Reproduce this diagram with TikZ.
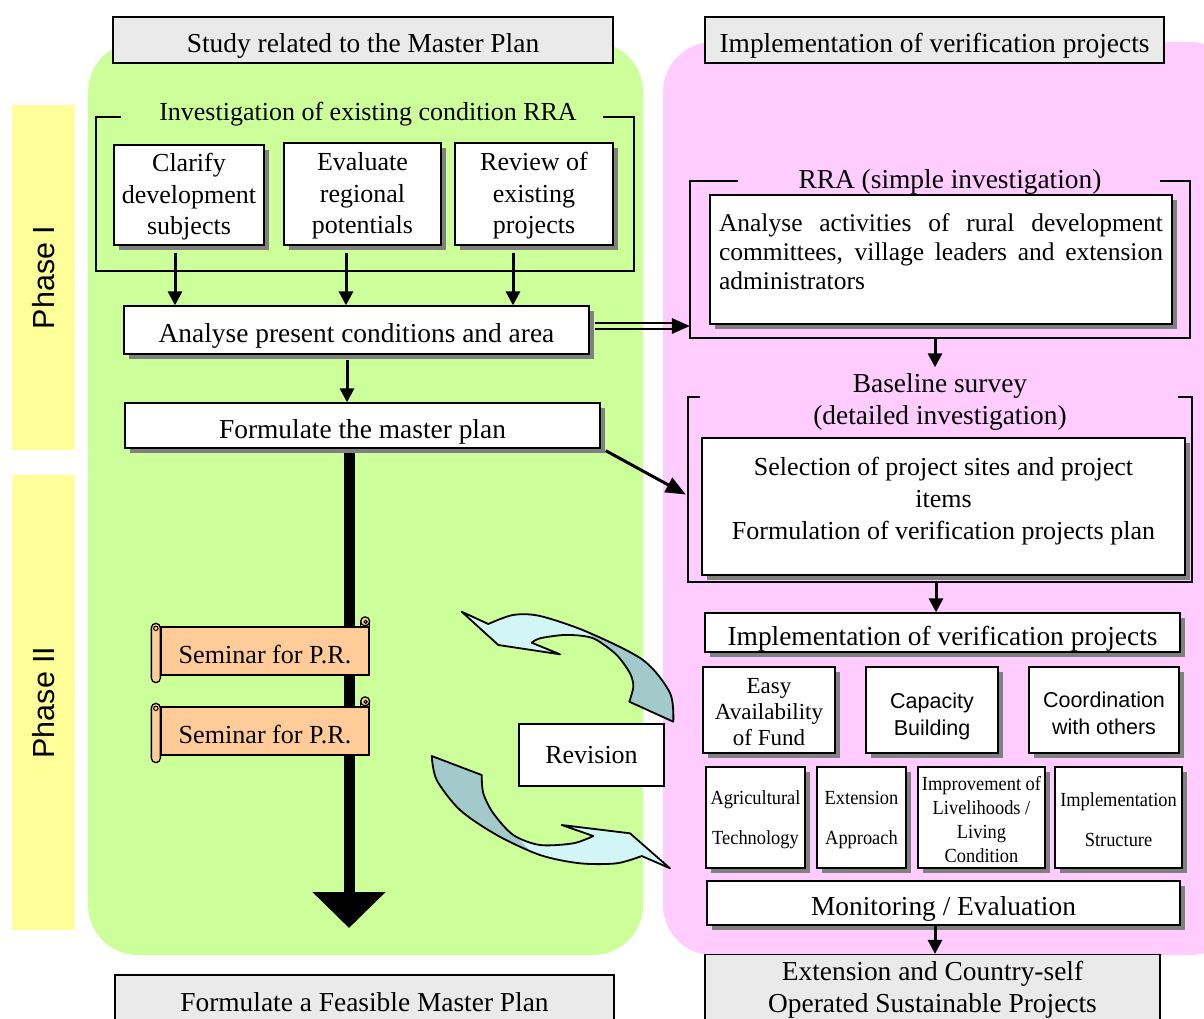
\documentclass[tikz,border=0pt]{standalone}
\usepackage{fontspec}
\setmainfont{Liberation Serif}
\newfontfamily\sansfam{Liberation Sans}
\newfontfamily\narrowfam[FakeStretch=0.92]{Liberation Serif}
\usetikzlibrary{arrows.meta,shadows,calc}

\newcommand\fsz[2]{\fontsize{#1}{#2}\selectfont}

\definecolor{phaseyellow}{HTML}{FFFF99}
\definecolor{mpgreen}{HTML}{CCFF99}
\definecolor{vppink}{HTML}{FFCCFF}
\definecolor{headgray}{HTML}{EAEAEA}
\definecolor{scrollpeach}{HTML}{FFCC99}
\definecolor{arrowlight}{HTML}{D2F6F6}
\definecolor{arrowdark}{HTML}{A2CACA}
\definecolor{shadowgray}{HTML}{808080}

\tikzset{
  phasebar/.style={fill=phaseyellow, inner sep=0pt, font=\sansfam\fsz{30.5}{36}},
  header/.style={draw, line width=1.2pt, fill=headgray, inner sep=0pt, align=center, font=\fsz{27.4}{32}},
  box/.style={draw, line width=1.3pt, fill=white, inner sep=0pt, align=center,
    font=\fsz{26}{31.5},
    drop shadow={shadow xshift=5pt, shadow yshift=-5pt, fill=shadowgray, opacity=1}},
  bigtext/.style={font=\fsz{27.4}{32}},
  oneline/.style={text height=31pt, text depth=6pt},
  plainbox/.style={draw, line width=1.3pt, fill=white, inner sep=0pt, align=center, font=\fsz{26}{31}},
  label/.style={inner sep=0pt, align=center, font=\fsz{26}{31}},
  frame/.style={inner sep=0pt, draw=none},
  frameline/.style={line width=1.5pt},
  flow/.style={line width=3pt, -{Triangle[width=14pt,length=14pt]}},
  scrollbody/.style={draw, line width=1.3pt, fill=scrollpeach, inner sep=0pt,
    minimum width=208pt, minimum height=48pt, text height=24pt, text depth=0pt,
    font=\fsz{26.1}{30}},
  scrollpart/.style={draw, line width=1.3pt, fill=scrollpeach},
  turnout/.style={draw, line width=1.8pt, line join=round}
}

% rolled ends of a horizontal scroll around node #1
\newcommand\scrollrolls[1]{%
  \filldraw[scrollpart] ($(#1.north east)+(-9,0)$) rectangle ($(#1.north east)+(0,-5)$);
  \filldraw[scrollpart] ($(#1.north east)+(-4.5,-5)$) circle (4.5);
  \draw[line width=1pt] ($(#1.north east)+(-4,-4.5)$) circle (1.6);
  \filldraw[scrollpart, rounded corners=4.5pt] ($(#1.north west)+(-9,-3)$) rectangle ($(#1.south west)+(0,7)$);
  \draw[line width=1pt] ($(#1.north west)+(-4.5,2)$) circle (2.2);
}

% outlines of the two turning arrows round the revision box
\def\topturn{(461.7,611.7) -- (488.3,624)
  -- plot[smooth] coordinates {(488.3,624) (513,615) (540,616) (586.7,631.7) (643,660) (670,693) (673.3,721.7)}
  -- (629.3,701.7)
  -- plot[smooth] coordinates {(629.3,701.7) (633.3,686.7) (630,673.3) (616.7,655) (596.7,640) (583.3,636) (563.3,635) (540,638.3) (531.7,642.7)}
  -- (560,654.3) -- (498.3,645) -- cycle}
\def\lowturn{(431.7,756) -- (481.7,775)
  -- plot[smooth] coordinates {(481.7,775) (483.3,793.3) (493.3,813.3) (513.3,835) (540,845) (573.3,843.3) (593.3,836)}
  -- (561.7,825) -- (630,833.3) -- (670,868.3) -- (641.7,856)
  -- plot[smooth] coordinates {(641.7,856) (616.7,863.3) (580,863.3) (540,855) (496.7,835) (460,810) (436.7,780) (431.7,756)}
  -- cycle}

\begin{document}
\begin{tikzpicture}[x=1pt,y=-1pt]
\useasboundingbox (0,0) rectangle (1204,1019);
\clip (0,0) rectangle (1204,1019);
\fill[white] (0,0) rectangle (1204,1019);

% background panels
\fill[mpgreen, rounded corners=50pt] (88,42) rectangle (643,955);
\fill[vppink, rounded corners=50pt] (663,42) rectangle (1240,955);
\node[phasebar, rotate=90, minimum width=345pt, minimum height=63pt] (phase1) at (43.5,277.5) {Phase I};
\node[phasebar, rotate=90, minimum width=455pt, minimum height=63pt] (phase2) at (43.5,702.5) {Phase II};

% headers
\node[header, oneline, minimum width=500pt, minimum height=46pt] (study) at (363,40) {Study related to the Master Plan};
\node[header, oneline, minimum width=459pt, minimum height=46pt] (impltop) at (934.5,40) {Implementation of verification projects};
\node[header, minimum width=499pt, minimum height=54pt] (feasible) at (364.5,1002) {Formulate a Feasible Master Plan};
\node[header, minimum width=455pt, minimum height=70pt] (extension) at (932.5,989.5) {Extension and Country-self\\Operated Sustainable Projects};

% master plan study
\node[frame, minimum width=538pt, minimum height=154pt] (invframe) at (365,194) {};
\node[label] (invlabel) at (368,114.5) {Investigation of existing condition RRA};
\draw[frameline] ($(invframe.north west)+(25,0)$) -- (invframe.north west) -- (invframe.south west)
  -- (invframe.south east) -- (invframe.north east) -- ($(invframe.north east)+(-31,0)$);

\node[box, minimum width=150pt, minimum height=100pt] (clarify) at (189,195) {\rule{0pt}{22pt}Clarify\\development\\subjects};
\node[box, minimum width=157pt, minimum height=102pt] (evaluate) at (362.5,194) {\rule{0pt}{22pt}Evaluate\\regional\\potentials};
\node[box, minimum width=158pt, minimum height=102pt] (review) at (534,194) {\rule{0pt}{22pt}Review of\\existing\\projects};
\node[box, bigtext, oneline, minimum width=465pt, minimum height=48pt] (analyse) at (356.5,330) {Analyse present conditions and area};
\node[box, bigtext, oneline, minimum width=475pt, minimum height=45pt] (formulate) at (362.5,425.5) {Formulate the master plan};

\draw[flow] ($(clarify.south)+(-14,7)$) -- ($(clarify.south |- analyse.north)+(-14,0)$);
\draw[flow] ($(evaluate.south)+(-16.5,7)$) -- ($(evaluate.south |- analyse.north)+(-16.5,0)$);
\draw[flow] ($(review.south)+(-21,7)$) -- ($(review.south |- analyse.north)+(-21,0)$);
\draw[flow] ($(analyse.south)+(-9.5,5)$) -- ($(analyse.south |- formulate.north)+(-9.5,0)$);

\coordinate (mpend) at (349,928);
\draw[line width=11pt, -{Triangle[width=71pt,length=36pt]}] ($(formulate.south)+(-13.5,4)$) -- (mpend);

\node[scrollbody] (seminar1) at (265,651) {Seminar for P.R.};
\scrollrolls{seminar1}
\node[scrollbody] (seminar2) at (265,731) {Seminar for P.R.};
\scrollrolls{seminar2}

\node[plainbox, minimum width=145pt, minimum height=62pt] (revision) at (591.5,755) {Revision};

% verification projects
\node[frame, minimum width=500pt, minimum height=157pt] (rraframe) at (940,259.5) {};
\node[label, bigtext] (rralabel) at (950,181.5) {RRA (simple investigation)};
\draw[frameline] ($(rraframe.north west)+(48,0)$) -- (rraframe.north west) -- (rraframe.south west)
  -- (rraframe.south east) -- (rraframe.north east) -- ($(rraframe.north east)+(-30,0)$);
\node[box, minimum width=462pt, minimum height=129pt] (rrabox) at (941,259.5) {};
\node[inner sep=0pt, text width=444pt, align=justify, anchor=north, font=\fsz{25.5}{29}] (rratext)
  at ($(rrabox.north)+(0,18.5)$) {Analyse activities of rural development committees, village leaders and extension administrators};

\node[label, bigtext] (baselabel) at (940,402) {Baseline survey\\(detailed investigation)};
\coordinate (baseentry) at ($(baselabel.north)+(-5,-6)$);
\draw[flow] (rraframe.south -| baseentry) -- (baseentry);

\node[frame, minimum width=504pt, minimum height=185pt] (baseframe) at (940,489.5) {};
\draw[frameline] ($(baseframe.north west)+(12,0)$) -- (baseframe.north west) -- (baseframe.south west)
  -- (baseframe.south east) -- (baseframe.north east) -- ($(baseframe.north east)+(-14,0)$);
\node[box, minimum width=483pt, minimum height=137pt] (selbox) at (943.5,506.5) {};
\node[inner sep=0pt, align=center, font=\fsz{26}{32}] (seltext) at (943.5,501)
  {Selection of project sites and project\\items\\Formulation of verification projects plan};

\node[box, bigtext, oneline, minimum width=475pt, minimum height=39pt] (implmid) at (942.5,632.5) {Implementation of verification projects};
\draw[flow] ($(baseframe.south)+(-4,0)$) -- ($(baseframe.south |- implmid.north)+(-4,0)$);

\node[box, minimum width=132pt, minimum height=86pt, font=\fsz{23}{26}] (fund) at (769,710) {\rule{0pt}{19pt}Easy\\Availability\\of Fund};
\node[box, minimum width=132pt, minimum height=86pt, font=\sansfam\fsz{21.5}{27}] (capacity) at (932,710) {\rule{0pt}{28pt}Capacity\\Building};
\node[box, minimum width=150pt, minimum height=86pt, font=\sansfam\fsz{21.5}{27}] (coord) at (1104,710) {\rule{0pt}{22pt}Coordination\\with others};

\node[box, minimum width=99pt, minimum height=101pt, font=\narrowfam\fsz{20}{40}] (agri) at (755.5,817.5) {\rule{0pt}{18pt}Agricultural\\Technology};
\node[box, minimum width=89pt, minimum height=101pt, font=\narrowfam\fsz{20}{40}] (extn) at (861.5,817.5) {\rule{0pt}{18pt}Extension\\Approach};
\node[box, minimum width=127pt, minimum height=101pt, font=\narrowfam\fsz{20}{24}] (improve) at (981.5,817.5) {\rule{0pt}{18pt}Improvement of\\Livelihoods /\\Living\\Condition};
\node[box, minimum width=127pt, minimum height=101pt, font=\narrowfam\fsz{20}{40}] (implstr) at (1118.5,817.5) {\rule{0pt}{18pt}Implementation\\Structure};

\node[box, bigtext, oneline, minimum width=473pt, minimum height=44pt] (monitor) at (943.5,903) {Monitoring / Evaluation};
\draw[flow] ($(monitor.south)+(-8.5,0)$) -- ($(monitor.south |- extension.north)+(-8.5,0)$);

% links between the two sides
\coordinate (dblstart) at ($(analyse.east)+(5,-4)$);
\coordinate (dblend) at (rraframe.west |- dblstart);
\draw[line width=1.8pt] ($(dblstart)+(0,-3)$) -- ($(dblend)+(-15,-3)$);
\draw[line width=1.8pt] ($(dblstart)+(0,3)$) -- ($(dblend)+(-15,3)$);
\fill ($(dblend)+(-18,-8)$) -- (dblend) -- ($(dblend)+(-18,8)$) -- cycle;

\draw[line width=3pt, -{Triangle[width=16pt,length=20pt]}] ($(formulate.south east)+(5,2)$) -- ($(baseframe.west)+(-2,5)$);

% turning arrows round the revision box
\fill[arrowlight] \topturn;
\begin{scope}
  \clip \topturn;
  \fill[arrowdark] (575,622) -- (575,595) -- (720,595) -- (720,745) -- (598,745) -- (598,690) -- (601,644) -- cycle;
\end{scope}
\draw[turnout] \topturn;

\fill[arrowlight] \lowturn;
\begin{scope}
  \clip \lowturn;
  \fill[arrowdark] (420,740) -- (490,740) -- (500,800) -- (512,832) -- (534,855) -- (420,870) -- cycle;
\end{scope}
\draw[turnout] \lowturn;
\end{tikzpicture}
\end{document}
